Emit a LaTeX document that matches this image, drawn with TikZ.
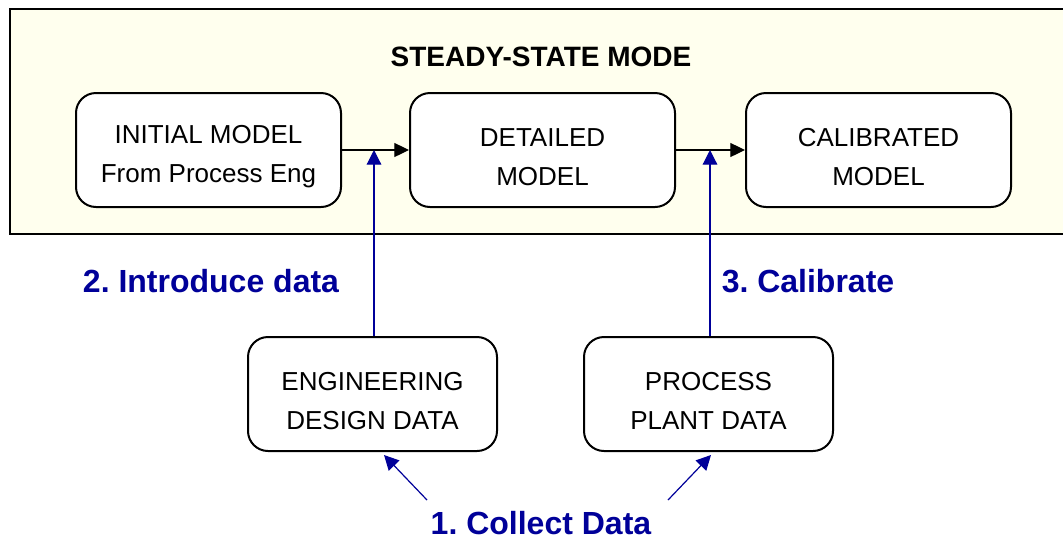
\documentclass[tikz,border=0pt]{standalone}
\usepackage{fontspec}
\setmainfont{Liberation Sans}
\usetikzlibrary{arrows.meta}
\frenchspacing
\definecolor{bgyellow}{RGB}{255,255,238}
\definecolor{navy}{RGB}{0,0,153}
\newcommand{\topgap}{\rule{0pt}{24pt}}
\tikzset{
  box/.style={draw=black, line width=1.5pt, rounded corners=15pt, fill=white,
    align=center, inner sep=0pt, font=\fontsize{19.5}{29.5}\selectfont},
  bigbox/.style={box, minimum width=198.75pt, minimum height=85.5pt},
  smallbox/.style={box, minimum width=186.75pt, minimum height=85.5pt},
  flow/.style={draw=black, line width=0.9pt, -{Triangle[length=11pt,width=10.5pt]}},
  bflow/.style={draw=navy, line width=0.9pt, -{Triangle[length=11pt,width=11pt]}, color=navy},
  blabel/.style={text=navy, inner sep=0pt, font=\fontsize{24}{28}\selectfont\bfseries}
}
\begin{document}
\begin{tikzpicture}[x=0.75pt,y=-0.75pt]
\useasboundingbox (0,0) rectangle (1063,540);
\begin{scope}
\clip (0,0) rectangle (1063,540);
\draw[line width=1.5pt, fill=bgyellow] (10,9) rectangle (1075,234);
\end{scope}
\node[font=\fontsize{21}{24}\selectfont\bfseries] (title) at (541,57) {STEADY-STATE MODE};
\node[bigbox] (init) at (208.5,150) {\topgap INITIAL MODEL\\From Process Eng};
\node[bigbox] (det) at (542.5,150) {\topgap DETAILED\\MODEL};
\node[bigbox] (cal) at (878.5,150) {\topgap CALIBRATED\\MODEL};
\node[smallbox] (eng) at (372.5,394) {\topgap ENGINEERING\\DESIGN DATA};
\node[smallbox] (proc) at (708.5,394) {\topgap PROCESS\\PLANT DATA};
\draw[flow] (init.east) -- (det.west);
\draw[flow] (det.east) -- (cal.west);
\coordinate (t1) at (374,150);
\coordinate (t2) at (710,150);
\draw[bflow] (eng.north -| t1) -- (t1);
\draw[bflow] (proc.north -| t2) -- (t2);
\node[blabel] (l2) at (211,281) {2. Introduce data};
\node[blabel] (l3) at (808,281) {3. Calibrate};
\node[blabel] (l1) at (541,523) {1. Collect Data};
\coordinate (s1) at (427,500);
\coordinate (e1) at (384,455);
\coordinate (s2) at (668,500);
\coordinate (e2) at (711,455);
\draw[bflow] (s1) -- (e1);
\draw[bflow] (s2) -- (e2);
\end{tikzpicture}
\end{document}
